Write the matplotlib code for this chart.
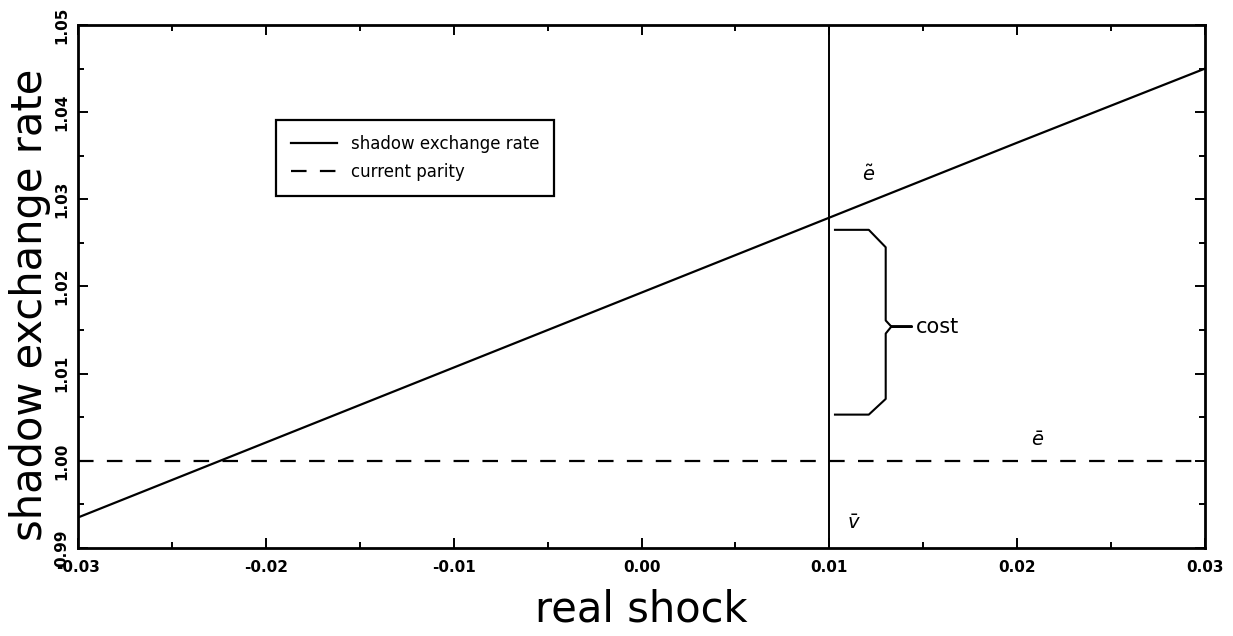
import numpy as np
import matplotlib.pyplot as plt
from matplotlib.ticker import MultipleLocator, FormatStrFormatter

# values
shock = [-0.03, -0.02, -0.01, 0.00, 0.01, 0.02, 0.03]
shadow_rate = [0.9935, 1.0021, 1.0107, 1.0193, 1.0279, 1.0365, 1.0450]
parity = 1.00
v_bar = 0.01

# brace marking the cost (data coords)
brace_x = [0.0103, 0.0121, 0.0130, 0.0130, 0.0133, 0.0144, 0.0133, 0.0130, 0.0130, 0.0121, 0.0103]
brace_y = [1.0265, 1.0265, 1.0245, 1.0161, 1.0154, 1.0154, 1.0154, 1.0146, 1.0071, 1.0053, 1.0053]

fig = plt.figure(figsize=(12.33, 6.36), dpi=100)
ax = fig.add_axes([0.0633, 0.1384, 0.914, 0.8223])

ax.plot(shock, shadow_rate, color='black', lw=1.6, label='shadow exchange rate')
ax.axhline(parity, color='black', lw=1.6, ls=(0, (7, 6)), label='current parity')
ax.axvline(v_bar, color='black', lw=1.4)
ax.plot(brace_x, brace_y, color='black', lw=1.5)

ax.text(0.0146, 1.0154, 'cost', fontsize=15, va='center', ha='left')
ax.text(0.0121, 1.0328, r'$\tilde{e}$', fontsize=14, ha='center', va='center')
ax.text(0.0211, 1.0023, r'$\bar{e}$', fontsize=14, ha='center', va='center')
ax.text(0.0113, 0.9928, r'$\bar{v}$', fontsize=14, ha='center', va='center')

ax.set_xlim(-0.03, 0.03)
ax.set_ylim(0.99, 1.05)
ax.xaxis.set_major_locator(MultipleLocator(0.01))
ax.xaxis.set_minor_locator(MultipleLocator(0.005))
ax.yaxis.set_major_locator(MultipleLocator(0.01))
ax.yaxis.set_minor_locator(MultipleLocator(0.005))
ax.xaxis.set_major_formatter(FormatStrFormatter('%.2f'))
ax.yaxis.set_major_formatter(FormatStrFormatter('%.2f'))
ax.tick_params(which='both', direction='in', top=True, right=True, width=1.4)
ax.tick_params(which='major', length=7, labelsize=11)
ax.tick_params(which='minor', length=4)
ax.tick_params(axis='x', pad=9)
ax.tick_params(axis='y', pad=6)
for lab in ax.get_xticklabels():
    lab.set_fontweight('bold')
for lab in ax.get_yticklabels():
    lab.set_rotation(90)
    lab.set_va('center')
    lab.set_fontweight('bold')
for s in ax.spines.values():
    s.set_linewidth(2)

ax.set_xlabel('real shock', fontsize=30, va='center')
ax.xaxis.set_label_coords(0.5, -0.118)
ax.set_ylabel('shadow exchange rate', fontsize=30, va='center')
ax.yaxis.set_label_coords(-0.043, 0.465)

leg = ax.legend(loc='upper left', bbox_to_anchor=(0.168, 0.835), fontsize=12,
                frameon=True, fancybox=False, edgecolor='black', framealpha=1,
                handlelength=2.8, borderpad=0.9, labelspacing=0.6)
leg.get_frame().set_linewidth(1.6)

fig.savefig('out.png', dpi=100)
